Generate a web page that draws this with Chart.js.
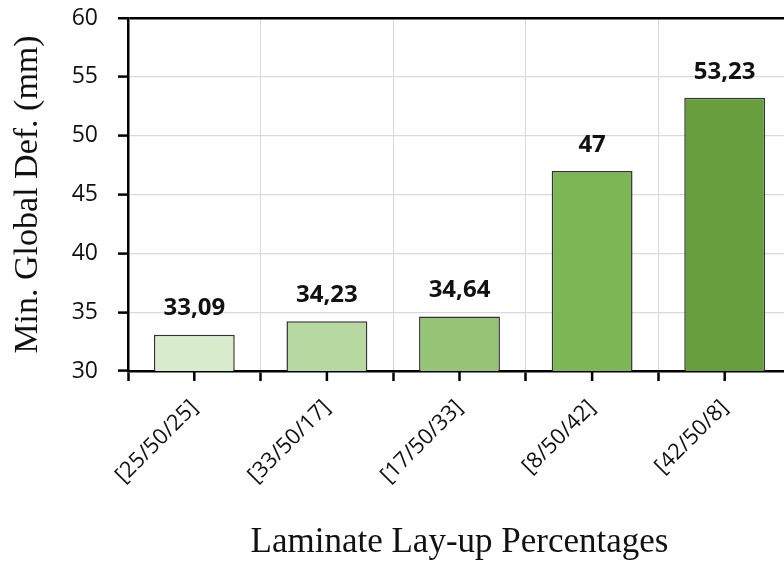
<!DOCTYPE html>
<html>
<head>
<meta charset="utf-8">
<script src="https://cdn.jsdelivr.net/npm/chart.js@4"></script>
<style>
  html, body { margin: 0; padding: 0; background: #fff; overflow: hidden; }
  #wrap { width: 800px; height: 564px; }
</style>
</head>
<body>
<div id="wrap"><canvas id="defChart"></canvas></div>
<script>
const layups = ["[25/50/25]", "[33/50/17]", "[17/50/33]", "[8/50/42]", "[42/50/8]"];
const minGlobalDef = [33.09, 34.23, 34.64, 47, 53.23];
const barColors = ["#d9ebcd", "#b7d8a1", "#96c576", "#7db755", "#679f3f"];
const yTicks = [30, 35, 40, 45, 50, 55, 60];

// value labels above bars, plus the small tick marks under bar centres
const barExtras = {
  id: "barExtras",
  afterDatasetsDraw(chart) {
    const ctx = chart.ctx;
    const meta = chart.getDatasetMeta(0);
    const bottom = chart.chartArea.bottom;
    ctx.save();
    ctx.font = "bold 24px 'Open Sans'";
    ctx.fillStyle = "#111";
    ctx.textAlign = "center";
    ctx.textBaseline = "middle";
    meta.data.forEach(function (bar, i) {
      ctx.fillText(String(minGlobalDef[i]).replace(".", ","), bar.x, bar.y - 26);
    });
    ctx.strokeStyle = "#000";
    ctx.lineWidth = 2.5;
    meta.data.forEach(function (bar) {
      ctx.beginPath();
      ctx.moveTo(bar.x, bottom);
      ctx.lineTo(bar.x, bottom + 10);
      ctx.stroke();
    });
    ctx.restore();
  },
};

const ctx = document.getElementById("defChart").getContext("2d");
new Chart(ctx, {
  type: "bar",
  data: {
    labels: layups,
    datasets: [
      {
        data: minGlobalDef,
        backgroundColor: barColors,
        borderColor: "#333",
        borderWidth: 1.5,
        borderSkipped: false,
        categoryPercentage: 1,
        barPercentage: 0.61,
      },
    ],
  },
  options: {
    responsive: true,
    maintainAspectRatio: false,
    animation: false,
    layout: { padding: { left: 0, top: 18, right: 9, bottom: 0 } },
    plugins: { legend: { display: false }, tooltip: { enabled: false } },
    scales: {
      x: {
        afterFit: function (s) { s.height = 193; },
        grid: {
          offset: true,
          color: "#d9d9d9",
          tickColor: "#000",
          tickLength: 10,
          tickWidth: 2.5,
        },
        border: { color: "#000", width: 2.5 },
        ticks: {
          maxRotation: 45,
          minRotation: 45,
          padding: 14,
          color: "#111",
          font: { family: "'Open Sans'", size: 22 },
        },
        title: {
          display: true,
          text: "Laminate Lay-up Percentages",
          color: "#111",
          font: { family: "'Liberation Serif'", size: 35 },
          padding: { top: 10, bottom: 0 },
        },
      },
      y: {
        min: 30,
        max: 60,
        afterFit: function (s) {
          s.width = 128;
          s.paddingTop = 0;
          s.paddingBottom = 0;
        },
        afterBuildTicks: function (s) { s.ticks = yTicks.map(function (v) { return { value: v }; }); },
        grid: {
          color: function (c) { return c.tick && c.tick.value === 60 ? "#000" : "#d9d9d9"; },
          lineWidth: function (c) { return c.tick && c.tick.value === 60 ? 2.5 : 1.2; },
          tickColor: "#000",
          tickLength: 10,
          tickWidth: 2.5,
        },
        border: { color: "#000", width: 2.5 },
        ticks: {
          padding: 20,
          color: "#111",
          font: { family: "'Open Sans'", size: 23 },
        },
        title: {
          display: true,
          text: "Min. Global Def. (mm)",
          color: "#111",
          font: { family: "'Liberation Serif'", size: 34 },
          padding: { top: 8, bottom: 0 },
        },
      },
    },
  },
  plugins: [barExtras],
});
</script>
</body>
</html>
